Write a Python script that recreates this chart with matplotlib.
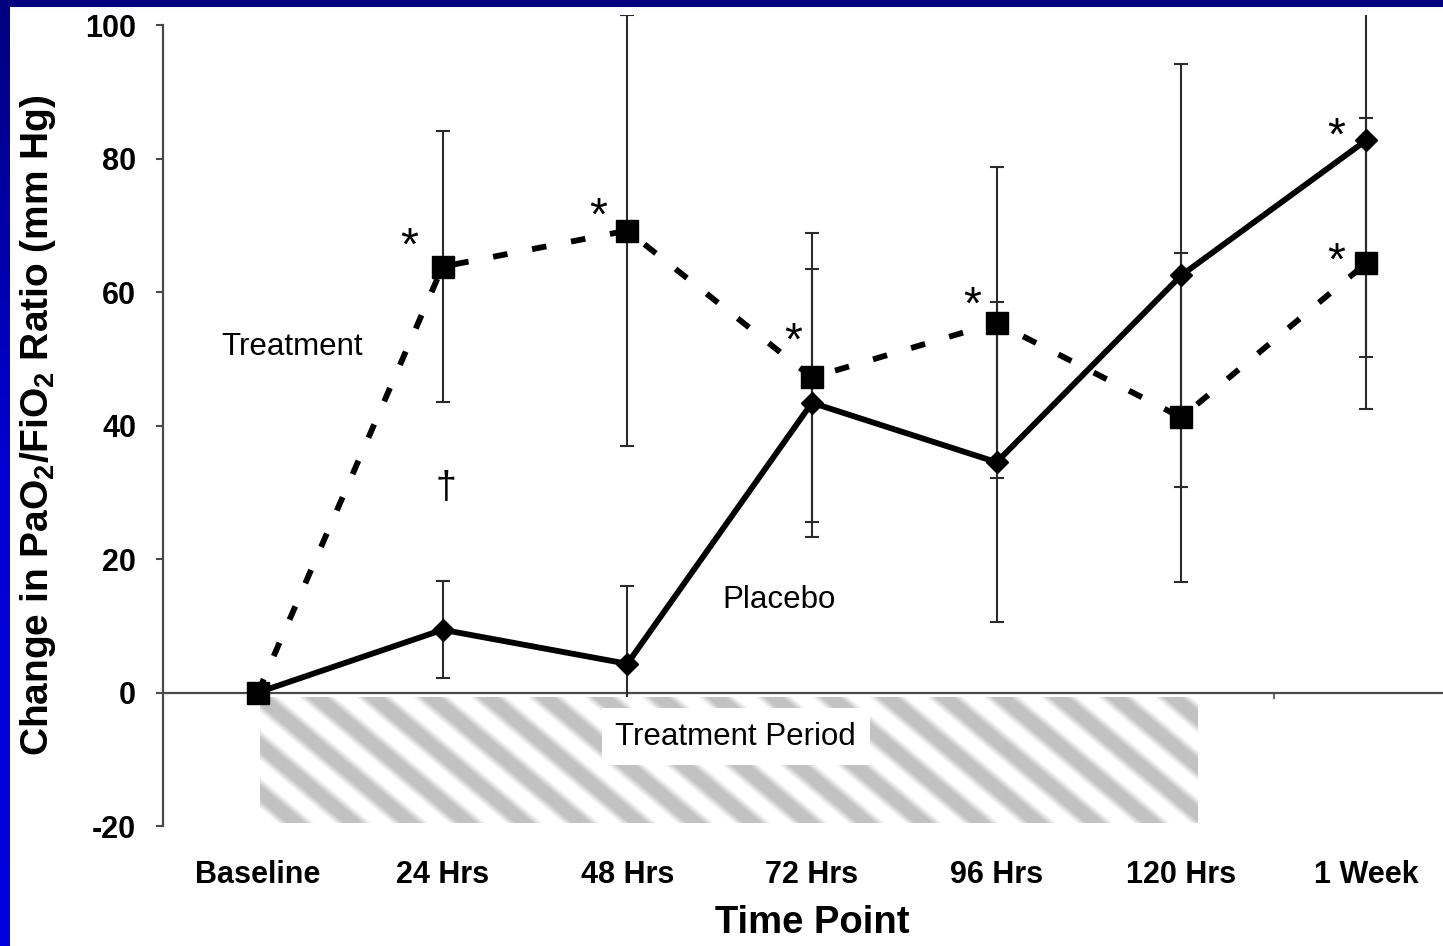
import numpy as np
import matplotlib
matplotlib.use("Agg")
import matplotlib.pyplot as plt
from matplotlib.patches import Rectangle
from matplotlib.colors import LinearSegmentedColormap
from matplotlib.transforms import offset_copy

plt.rcParams['font.family'] = ['Liberation Sans', 'DejaVu Sans']
plt.rcParams['mathtext.fontset'] = 'custom'
plt.rcParams['mathtext.rm'] = 'Liberation Sans'
plt.rcParams['mathtext.bf'] = 'Liberation Sans:bold'
plt.rcParams['mathtext.default'] = 'bf'

# ---- data -------------------------------------------------------------
categories = ["Baseline", "24 Hrs", "48 Hrs", "72 Hrs", "96 Hrs", "120 Hrs", "1 Week"]
treatment_mean = [0, 63.8, 69.2, 47.2, 55.4, 41.2, 64.3]
treatment_err = [0, 20.3, 32.3, 21.6, 23.3, 24.6, 21.8]
placebo_mean = [0, 9.4, 4.3, 43.4, 34.5, 62.5, 82.7]
placebo_err = [0, 7.3, 11.7, 20.1, 24.0, 31.7, 32.5]
y_ticks = [-20, 0, 20, 40, 60, 80, 100]

# significance marks (category position, value)
star_x = [0.82, 1.84, 2.90, 3.87, 5.84, 5.84]
star_y = [68.0, 72.5, 53.8, 59.2, 84.5, 65.8]
dagger_xy = (1.02, 30.7)

W, H = 1443, 946
fig = plt.figure(figsize=(W / 100, H / 100), dpi=100)

# slide background: blue gradient frame with a white panel
bg = fig.add_axes([0, 0, 1, 1], zorder=-10)
bg.axis('off')
frame_cmap = LinearSegmentedColormap.from_list('frame', ['#00007e', '#0000d4', '#0000e0'])
bg.imshow(np.linspace(0, 1, 256)[:, None], cmap=frame_cmap, aspect='auto',
          extent=[0, 1, 0, 1])
bg.add_patch(Rectangle((10 / W, 0), 1, 1 - 7 / H, transform=bg.transAxes,
                       facecolor='white', edgecolor='none'))
bg.set_xlim(0, 1)
bg.set_ylim(0, 1)

ax_left, ax_right, ax_top, ax_bot = 163, 1443, 15, 826
ax = fig.add_axes([ax_left / W, (H - ax_bot) / H, (ax_right - ax_left) / W,
                   (ax_bot - ax_top) / H])
ax.patch.set_alpha(0)

x = np.arange(len(categories))
ax.set_xlim(-0.514, 6.417)
ax.set_ylim(-20, 101.5)

# treatment period band extent (category units / mm Hg)
band_x0, band_x1, band_y0, band_y1 = 0.011, 5.085, -19.6, -0.75

axis_col = '#4a4a4a'
ax.axhline(0, color=axis_col, lw=1.6, zorder=1)
bounds = x[:-1] + 0.5
bounds = bounds[bounds > band_x1]
ax.vlines(bounds, -0.9, 0, color=axis_col, lw=1.2, zorder=1)

# error bars (baseline has none)
for mean, err in ((treatment_mean, treatment_err), (placebo_mean, placebo_err)):
    m = np.array(mean)[1:]
    e = np.array(err)[1:]
    ax.errorbar(x[1:], m, yerr=e, fmt='none', ecolor='#2b2b2b', elinewidth=1.5,
                capsize=4.7, capthick=1.5, zorder=2)

# soft diagonal stripes filling the band
pw, ph = 937, 126
jj, ii = np.meshgrid(np.arange(pw), np.arange(ph))
theta = np.deg2rad(40)
period = 57 * np.sin(theta)
phase = (-jj * np.sin(theta) + ii * np.cos(theta)) / period
v = 0.5 + 0.5 * np.cos(2 * np.pi * phase)
dark = np.clip((v - 0.25) / 0.55, 0, 1)
stripes = 1 - 0.24 * dark
ax.imshow(stripes, cmap='gray', vmin=0, vmax=1, aspect='auto',
          extent=[band_x0, band_x1, band_y0, band_y1], interpolation='bilinear',
          zorder=2.5)
ax.text((band_x0 + band_x1) / 2 + 0.04, -6.6, 'Treatment Period', ha='center',
        va='center', fontsize=22.5,
        bbox=dict(facecolor='white', edgecolor='none', pad=10), zorder=2.6)

# series
ax.plot(x, treatment_mean, color='black', lw=4.2, ls=(0, (2.5, 4.3)), marker='s',
        ms=16, zorder=4)
ax.plot(x, placebo_mean, color='black', lw=4.2, marker='D', ms=11, zorder=5)

ax.text(0.184, 51.7, 'Treatment', ha='center', va='center', fontsize=22.5)
ax.text(2.821, 13.8, 'Placebo', ha='center', va='center', fontsize=22.5)

star_fs = 33
star_tr = offset_copy(ax.transData, fig=fig, y=-0.47 * star_fs, units='points')
for sx, sy in zip(star_x, star_y):
    ax.text(sx, sy, '*', ha='center', va='baseline', fontsize=star_fs,
            transform=star_tr)
ax.text(*dagger_xy, '\u2020', ha='center', va='center', fontsize=27)

# axes styling
for side in ('top', 'right', 'bottom'):
    ax.spines[side].set_visible(False)
ax.spines['left'].set_bounds(-20, 100)
ax.spines['left'].set_color(axis_col)
ax.spines['left'].set_linewidth(1.6)

ax.set_xticks(x)
ax.set_xticklabels(categories, fontsize=22, fontweight='bold')
ax.tick_params(axis='x', length=0, pad=24.5)
ax.set_yticks(y_ticks)
ax.set_yticklabels([str(t) for t in y_ticks], fontsize=22, fontweight='bold')
ax.tick_params(axis='y', length=5, width=1.5, color=axis_col, pad=14.4)

ax.set_xlabel('Time Point', fontsize=27.5, fontweight='bold', va='center')
ax.xaxis.set_label_coords((812 - ax_left) / (ax_right - ax_left),
                          (ax_bot - 923) / (ax_bot - ax_top))
ax.set_ylabel('Change in PaO$_2$/FiO$_2$ Ratio (mm Hg)', fontsize=28,
              fontweight='bold', va='center')
ax.yaxis.set_label_coords((38 - ax_left) / (ax_right - ax_left),
                          (ax_bot - 425) / (ax_bot - ax_top))

fig.savefig('out.png', dpi=100)
